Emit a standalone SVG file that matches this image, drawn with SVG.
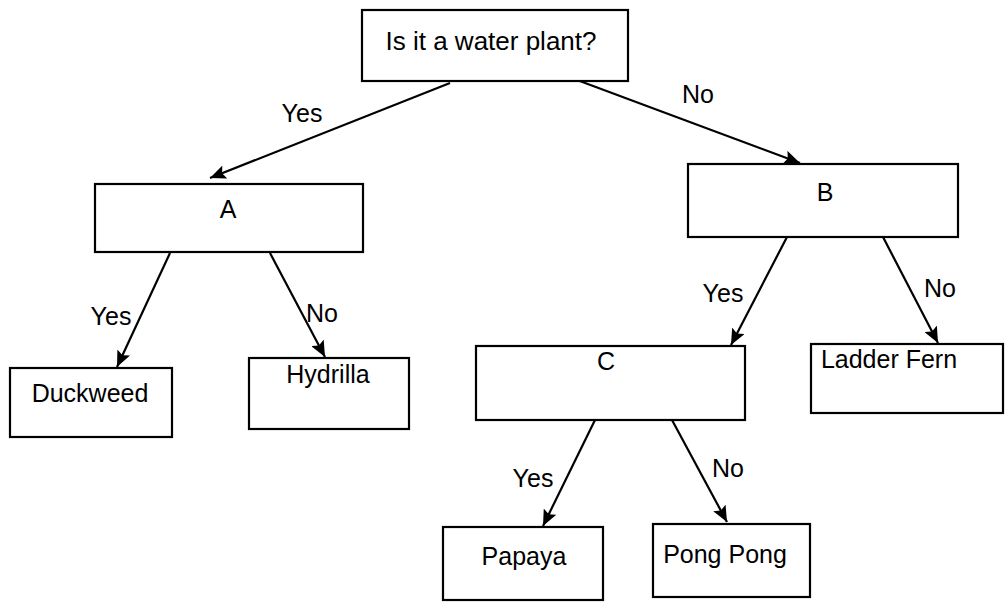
<svg xmlns="http://www.w3.org/2000/svg" width="1008" height="603" viewBox="0 0 1008 603">
<style>
.box{fill:#fff;stroke:#000;stroke-width:2.2}
.t{font-family:"Liberation Sans",Arial,sans-serif;font-size:25px;fill:#000;text-anchor:middle}
.c{stroke:#000;stroke-width:2.2;fill:none;marker-end:url(#ah)}
</style>
<defs>
<marker id="ah" markerUnits="userSpaceOnUse" markerWidth="18" markerHeight="14" refX="16" refY="7" orient="auto">
<path d="M0,0 L16,7 L0,14 L3,7 z" fill="#000"/>
</marker>
</defs>
<rect width="1008" height="603" fill="#fff"/>
<g id="connectors">
<line class="c" x1="450" y1="83" x2="210" y2="178"/>
<line class="c" x1="577" y1="80" x2="800" y2="163"/>
<line class="c" x1="170" y1="253" x2="117" y2="367"/>
<line class="c" x1="270" y1="253" x2="325" y2="357"/>
<line class="c" x1="787" y1="237" x2="731" y2="345"/>
<line class="c" x1="883" y1="237" x2="938" y2="343"/>
<line class="c" x1="595" y1="420" x2="543" y2="526"/>
<line class="c" x1="672" y1="420" x2="727" y2="522"/>
</g>
<g id="labels">
<text class="t" x="302" y="122">Yes</text>
<text class="t" x="698" y="103">No</text>
<text class="t" x="111" y="325">Yes</text>
<text class="t" x="322" y="322">No</text>
<text class="t" x="723" y="302">Yes</text>
<text class="t" x="940" y="297">No</text>
<text class="t" x="533" y="487">Yes</text>
<text class="t" x="728" y="477">No</text>
</g>
<g id="root"><rect class="box" x="362" y="10" width="266" height="71"/><text class="t" x="491" y="50" style="font-size:26px">Is it a water plant?</text></g>
<g id="A"><rect class="box" x="95" y="184" width="268" height="68"/><text class="t" x="228" y="218">A</text></g>
<g id="B"><rect class="box" x="688" y="164" width="270" height="73"/><text class="t" x="825" y="201">B</text></g>
<g id="duckweed"><rect class="box" x="10" y="368" width="162" height="69"/><text class="t" x="90" y="402">Duckweed</text></g>
<g id="hydrilla"><rect class="box" x="249" y="358" width="160" height="71"/><text class="t" x="328" y="383">Hydrilla</text></g>
<g id="C"><rect class="box" x="476" y="346" width="269" height="74"/><text class="t" x="606" y="370">C</text></g>
<g id="ladderfern"><rect class="box" x="811" y="344" width="192" height="69"/><text class="t" x="889" y="368">Ladder Fern</text></g>
<g id="papaya"><rect class="box" x="443" y="527" width="160" height="73"/><text class="t" x="524" y="565">Papaya</text></g>
<g id="pongpong"><rect class="box" x="653" y="524" width="157" height="73"/><text class="t" x="725" y="563">Pong Pong</text></g>
</svg>
